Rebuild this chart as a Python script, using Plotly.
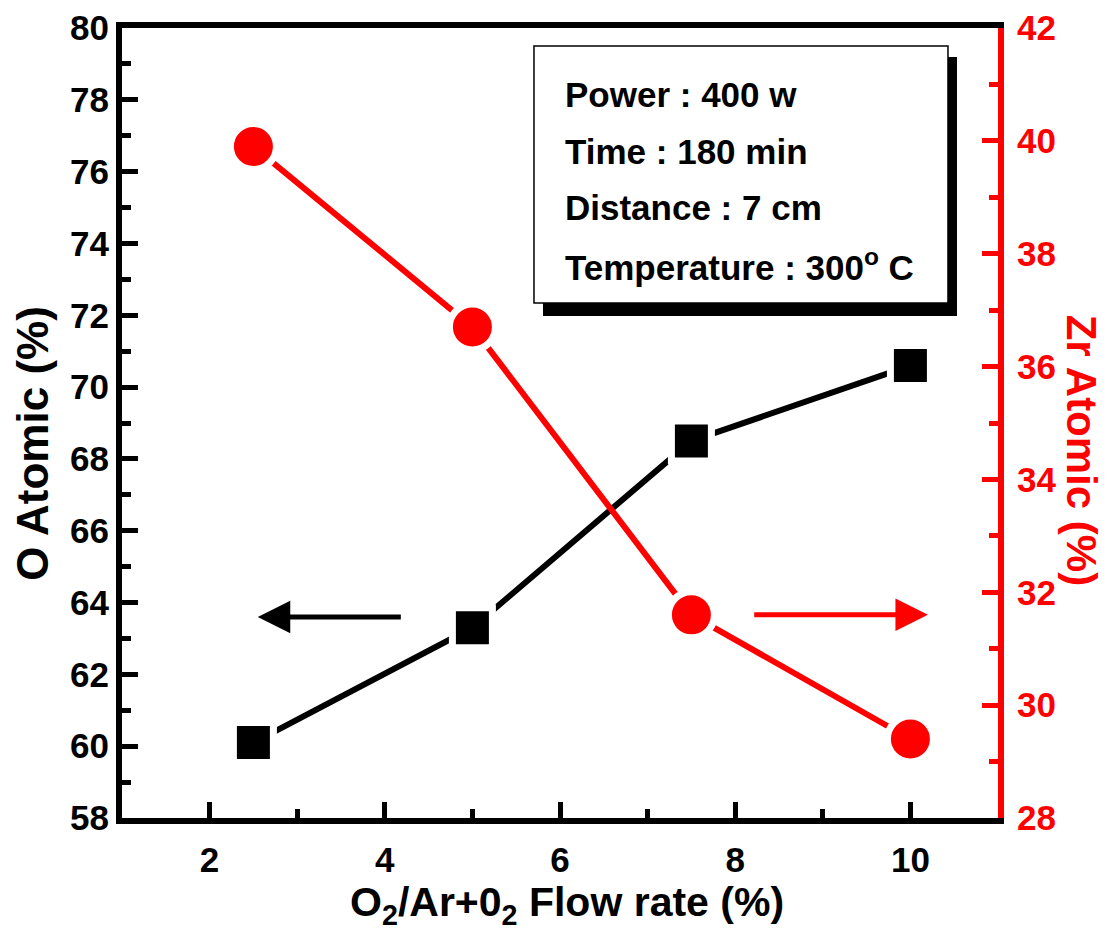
import plotly.graph_objects as go

# ---- data ----
flow_rate = [2.5, 5.0, 7.5, 10.0]
o_atomic = [60.1, 63.3, 68.5, 70.6]
zr_atomic = [39.9, 36.7, 31.6, 29.4]

x_ticks = [2, 4, 6, 8, 10]
y_left_ticks = [58, 60, 62, 64, 66, 68, 70, 72, 74, 76, 78, 80]
y_right_ticks = [28, 30, 32, 34, 36, 38, 40, 42]

box_lines = ["Power : 400 w", "Time : 180 min", "Distance : 7 cm",
             "Temperature : 300<sup>o</sup> C"]

# arrow annotations (data coords): head x, tail x, y
o_arrow = dict(head=2.55, tail=4.2, y=63.6)
zr_arrow = dict(head=10.2, tail=8.2, y=31.6)

FONT = "Liberation Sans, Arial, sans-serif"
RED = "#ff0000"

fig = go.Figure()
fig.add_trace(go.Scatter(
    x=flow_rate, y=o_atomic, mode="lines+markers", yaxis="y",
    line=dict(color="black", width=6),
    marker=dict(symbol="square", size=40, color="black",
                line=dict(color="white", width=7)),
    showlegend=False))
fig.add_trace(go.Scatter(
    x=flow_rate, y=zr_atomic, mode="lines+markers", yaxis="y2",
    line=dict(color=RED, width=6),
    marker=dict(symbol="circle", size=46, color=RED,
                line=dict(color="white", width=7)),
    showlegend=False))

tickfont_black = dict(family=FONT, size=35, color="black", weight="bold")
tickfont_red = dict(family=FONT, size=35, color=RED, weight="bold")

fig.update_layout(
    width=1107, height=943,
    margin=dict(l=114, r=117, t=20, b=133),
    paper_bgcolor="white", plot_bgcolor="white",
    xaxis=dict(range=[1, 11], tickvals=x_ticks, ticks="inside", ticklen=16,
               tickwidth=5, tickcolor="black", showline=True, linewidth=6,
               linecolor="black", mirror=True, showgrid=False, zeroline=False,
               tickfont=tickfont_black, ticklabelstandoff=6, automargin=False,
               minor=dict(dtick=1, ticks="inside", ticklen=9, tickwidth=5,
                          tickcolor="black", showgrid=False)),
    yaxis=dict(range=[58, 80], tickvals=y_left_ticks, ticks="inside", ticklen=16,
               tickwidth=5, tickcolor="black", showline=True, linewidth=6,
               linecolor="black", showgrid=False, zeroline=False,
               tickfont=tickfont_black, ticklabelstandoff=0, automargin=False,
               minor=dict(dtick=1, ticks="inside", ticklen=9, tickwidth=5,
                          tickcolor="black", showgrid=False)),
    yaxis2=dict(range=[28, 42], tickvals=y_right_ticks, overlaying="y", side="right",
                ticks="inside", ticklen=16, tickwidth=5, tickcolor=RED,
                showline=True, linewidth=6, linecolor=RED, showgrid=False,
                zeroline=False, tickfont=tickfont_red, ticklabelstandoff=6,
                automargin=False,
                minor=dict(dtick=1, ticks="inside", ticklen=9, tickwidth=5,
                           tickcolor=RED, showgrid=False)),
)

# info box shadow and box
fig.add_shape(type="rect", xref="paper", yref="paper",
              x0=0.4806, x1=0.9532, y0=0.6354, y1=0.9633,
              fillcolor="black", line=dict(width=0), layer="above")
fig.add_shape(type="rect", xref="paper", yref="paper",
              x0=0.4703, x1=0.9429, y0=0.6519, y1=0.9772,
              fillcolor="white", line=dict(color="black", width=1.5), layer="above")

line_y = [0.9152, 0.8443, 0.7722, 0.7000]
for txt, yy in zip(box_lines, line_y):
    fig.add_annotation(xref="paper", yref="paper", x=0.5034, y=yy,
                       xanchor="left", yanchor="middle", showarrow=False,
                       text=txt, font=dict(family=FONT, size=35, color="black",
                                           weight="bold"))

# axis titles
fig.add_annotation(xref="paper", yref="paper", x=-0.1016, y=0.475,
                   xanchor="center", yanchor="middle", textangle=-90, showarrow=False,
                   text="O Atomic (%)",
                   font=dict(family=FONT, size=44, color="black", weight="bold"))
fig.add_annotation(xref="paper", yref="paper", x=1.0947, y=0.465,
                   xanchor="center", yanchor="middle", textangle=90, showarrow=False,
                   text="Zr Atomic (%)",
                   font=dict(family=FONT, size=42, color=RED, weight="bold"))
fig.add_annotation(xref="paper", yref="paper", x=0.508, y=-0.11,
                   xanchor="center", yanchor="middle", showarrow=False,
                   text="O<sub>2</sub>/Ar+0<sub>2</sub> Flow rate (%)",
                   font=dict(family=FONT, size=41, color="black", weight="bold"))

# arrows
fig.add_annotation(xref="x", yref="y", axref="x", ayref="y",
                   x=o_arrow["head"], y=o_arrow["y"],
                   ax=o_arrow["tail"], ay=o_arrow["y"],
                   showarrow=True, arrowhead=2, arrowsize=1.3, arrowwidth=5,
                   arrowcolor="black", text="")
fig.add_annotation(xref="x", yref="y2", axref="x", ayref="y2",
                   x=zr_arrow["head"], y=zr_arrow["y"],
                   ax=zr_arrow["tail"], ay=zr_arrow["y"],
                   showarrow=True, arrowhead=2, arrowsize=1.3, arrowwidth=5,
                   arrowcolor=RED, text="")

fig.write_html("out.html")
